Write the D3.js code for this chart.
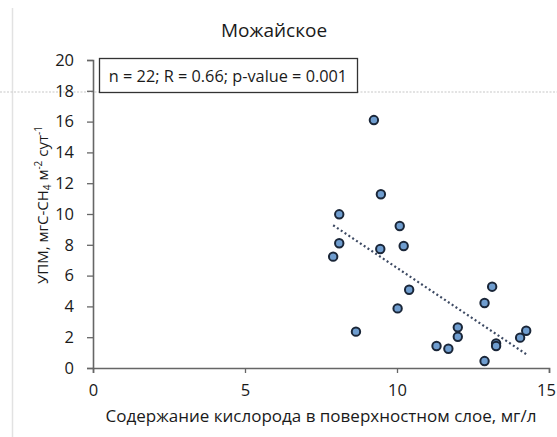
<!DOCTYPE html>
<html>
<head>
<meta charset="utf-8">
<script src="https://cdn.jsdelivr.net/npm/d3@7"></script>
<style>
  body { margin: 0; background: #fff; }
  text { font-family: "Open Sans", Lato, sans-serif; }
</style>
</head>
<body>
<div id="chart"></div>
<script>
// oxygen in the surface layer, mg/l
const oxygen = [9.24, 9.47, 8.1, 10.09, 8.1, 10.22, 9.45, 7.9,
    8.65, 13.13, 12.88, 10.4, 10.02, 12.0, 12.0, 11.3, 11.69,
    13.26, 13.26, 12.88, 14.05, 14.25];
// methane flux
const flux = [16.1, 11.28, 9.98, 9.22, 8.1, 7.92, 7.73, 7.23,
    2.36, 5.28, 4.22, 5.08, 3.87, 2.64, 2.03, 1.43, 1.25,
    1.6, 1.43, 0.45, 1.97, 2.42];
const xTicks = [0, 5, 10, 15];
const yTicks = [0, 2, 4, 6, 8, 10, 12, 14, 16, 18, 20];
const title = "Можайское";
const statsLabel = "n = 22; R = 0.66; p-value = 0.001";

const width = 557, height = 437;
const margin = {left: 93, right: 8, top: 60, bottom: 69};

let svg = d3.select('#chart')
    .append("svg")
    .attr("width", width)
    .attr("height", height);

// scan artefacts from the original picture
svg.append("line")
    .attr("x1", 12.5).attr("x2", 12.5)
    .attr("y1", 8).attr("y2", height)
    .attr("stroke", "#e2e2e2").attr("stroke-width", 1.5);
svg.append("line")
    .attr("x1", 0).attr("x2", width)
    .attr("y1", 92).attr("y2", 92)
    .attr("stroke", "#c8c8c8").attr("stroke-width", 1.2)
    .attr("stroke-dasharray", "2,1.5");

let x = d3.scaleLinear().domain([0, 15]).range([margin.left, width - margin.right]);
let y = d3.scaleLinear().domain([0, 20]).range([height - margin.bottom, margin.top]);

// axes
let xAxis = svg.append("g")
    .attr("transform", "translate(0," + y(0) + ")")
    .call(d3.axisBottom(x).tickValues(xTicks).tickSize(5).tickPadding(11));
let yAxis = svg.append("g")
    .attr("transform", "translate(" + x(0) + ",0)")
    .call(d3.axisLeft(y).tickValues(yTicks).tickSize(6).tickPadding(13));

[xAxis, yAxis].forEach(function(a) {
    a.select(".domain").attr("stroke", "#666").attr("stroke-width", 1.6);
    a.selectAll(".tick line").attr("stroke", "#666").attr("stroke-width", 1.3);
    a.selectAll(".tick text")
        .attr("font-size", 16.5)
        .attr("fill", "#1a1a1a")
        .style("font-family", '"Open Sans", Lato, sans-serif');
});
// last x label sits right at the edge, keep it inside
xAxis.selectAll(".tick text").filter(d => d === 15).attr("x", -3);

// trend line (least squares)
let mx = d3.mean(oxygen), my = d3.mean(flux);
let sxy = d3.sum(oxygen, (v, i) => (v - mx) * (flux[i] - my));
let sxx = d3.sum(oxygen, v => (v - mx) * (v - mx));
let slope = sxy / sxx, icpt = my - slope * mx;
let xr = d3.extent(oxygen);
svg.append("line")
    .attr("x1", x(xr[0])).attr("y1", y(icpt + slope * xr[0]))
    .attr("x2", x(xr[1])).attr("y2", y(icpt + slope * xr[1]))
    .attr("stroke", "#3d4a63")
    .attr("stroke-width", 2.2)
    .attr("stroke-dasharray", "2,2.6");

// points
svg.append("g").selectAll("circle")
    .data(oxygen)
    .enter()
    .append("circle")
    .attr("cx", d => x(d))
    .attr("cy", (d, i) => y(flux[i]))
    .attr("r", 4.2)
    .attr("fill", "#6f9dcf")
    .attr("stroke", "#1a2638")
    .attr("stroke-width", 2);

// title
svg.append("text")
    .attr("x", 274).attr("y", 37)
    .attr("text-anchor", "middle")
    .attr("font-size", 19)
    .attr("fill", "#1a1a1a")
    .text(title);

// stats box
svg.append("rect")
    .attr("x", 99.5).attr("y", 58.5)
    .attr("width", 258).attr("height", 34)
    .attr("fill", "#fff")
    .attr("stroke", "#333").attr("stroke-width", 1.3);
svg.append("text")
    .attr("x", 228).attr("y", 82)
    .attr("text-anchor", "middle")
    .attr("font-size", 16.3)
    .attr("fill", "#1a1a1a")
    .text(statsLabel);

// x label
svg.append("text")
    .attr("x", 321).attr("y", 422)
    .attr("text-anchor", "middle")
    .attr("font-size", 17)
    .attr("fill", "#1a1a1a")
    .text("Содержание кислорода в поверхностном слое, мг/л");

// y label with sub/superscripts
let yl = svg.append("text")
    .attr("transform", "translate(48,205) rotate(-90)")
    .attr("text-anchor", "middle")
    .attr("font-size", 15)
    .attr("fill", "#1a1a1a");
yl.append("tspan").text("УПМ, мгС-CH");
yl.append("tspan").attr("font-size", 10).attr("dy", 3).text("4");
yl.append("tspan").attr("dy", -3).text(" м");
yl.append("tspan").attr("font-size", 10).attr("dy", -6).text("-2");
yl.append("tspan").attr("dy", 6).text(" сут");
yl.append("tspan").attr("font-size", 10).attr("dy", -6).text("-1");
</script>
</body>
</html>
